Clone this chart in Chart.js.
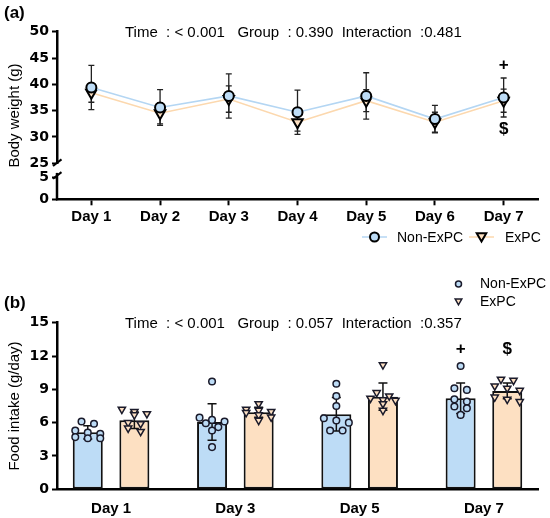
<!DOCTYPE html>
<html><head><meta charset="utf-8">
<script src="https://cdn.jsdelivr.net/npm/chart.js@4"></script>
<style>
html,body{margin:0;padding:0;background:#fff;}
#wrap{position:relative;width:550px;height:518px;overflow:hidden;}
.c{position:absolute;left:0;width:550px;height:259px;}
#top{top:0;} #bot{top:259px;}
</style></head><body>
<div id="wrap">
<div class="c" id="top"><canvas id="c1"></canvas></div>
<div class="c" id="bot"><canvas id="c2"></canvas></div>
</div>
<script>
// ---------- data: (a) body weight ----------
const bwDays = ['Day 1','Day 2','Day 3','Day 4','Day 5','Day 6','Day 7'];
const bwNon   = [39.4, 35.6, 37.8, 34.7, 37.8, 33.4, 37.5];
const bwNonSD = [4.2, 3.4, 4.2, 4.2, 4.4, 2.6, 3.7];
const bwEx    = [38.4, 34.5, 37.2, 32.8, 36.9, 32.8, 36.9];
const bwExSD  = [1.8, 2.0, 2.5, 1.7, 2.1, 1.9, 2.2];
const bwTopTicks = [25, 30, 35, 40, 45, 50];
const bwBotTicks = [0, 5];
const bwStats = 'Time  : < 0.001   Group  : 0.390  Interaction  :0.481';

// ---------- data: (b) food intake ----------
const fiDays   = [1, 3, 5, 7];
const fiLabels = ['Day 1','Day 3','Day 5','Day 7'];
const fiNonMean = [5.13, 6.06, 6.76, 8.20];
const fiNonSD   = [0.60, 1.65, 1.50, 1.38];
const fiExMean  = [6.22, 6.94, 8.34, 8.86];
const fiExSD    = [0.74, 0.45, 1.22, 0.70];
const fiNonPts = [
  [6.1, 5.9, 5.3, 5.1, 5.0, 4.7, 4.6, 4.6],
  [9.7, 6.45, 6.25, 6.1, 5.95, 5.6, 5.3, 3.8],
  [9.5, 8.4, 7.5, 6.4, 6.2, 6.0, 5.3, 5.3],
  [11.1, 9.1, 8.95, 8.1, 7.9, 7.45, 7.3, 6.7]
];
const fiExPts = [
  [7.2, 7.0, 6.8, 6.7, 6.0, 5.9, 5.5, 5.2],
  [7.7, 7.2, 7.1, 7.0, 6.9, 6.7, 6.5, 6.2],
  [11.2, 8.7, 8.4, 8.2, 8.05, 8.0, 7.7, 7.1],
  [9.9, 9.8, 9.3, 9.1, 8.9, 8.3, 8.1, 7.9]
];
const fiTicks = [0, 3, 6, 9, 12, 15];
const fiStats = 'Time  : < 0.001   Group  : 0.057  Interaction  :0.357';
const seriesNames = ['Non-ExPC', 'ExPC'];

// ---------- styles ----------
const BLUE = '#bddcf6', ORANGE = '#fde0c2';
const BLUE_LINE = '#b4d6f3', ORANGE_LINE = '#fcd8ae';
const ARIAL = "'Liberation Sans', Arial, Helvetica, sans-serif";
const TICKF = "'DejaVu Sans', 'Liberation Sans', sans-serif";

function circ(ctx, x, y, r, fill, lw, stroke) {
  ctx.beginPath(); ctx.arc(x, y, r, 0, Math.PI * 2);
  ctx.fillStyle = fill; ctx.fill();
  ctx.lineWidth = lw; ctx.strokeStyle = stroke; ctx.stroke();
}
function triDown(ctx, x, y, r, fill, lw, stroke) {
  const s = Math.sin(Math.PI / 3) * r;
  ctx.beginPath(); ctx.moveTo(x, y + r); ctx.lineTo(x - s, y - r / 2); ctx.lineTo(x + s, y - r / 2); ctx.closePath();
  ctx.fillStyle = fill; ctx.fill();
  ctx.lineWidth = lw; ctx.strokeStyle = stroke; ctx.lineJoin = 'miter'; ctx.stroke();
}
function errBar(ctx, px, y1, y2, cap) {
  ctx.beginPath();
  ctx.moveTo(px, y1); ctx.lineTo(px, y2);
  ctx.moveTo(px - cap, y1); ctx.lineTo(px + cap, y1);
  ctx.moveTo(px - cap, y2); ctx.lineTo(px + cap, y2);
  ctx.stroke();
}

const axisCommon = {
  grid: { display: true, drawOnChartArea: false, drawTicks: true, tickLength: 5, tickWidth: 2, tickColor: '#000' },
  border: { display: true, color: '#000', width: 2.5 },
};
const yTickOpts = { color: '#000', font: { family: TICKF, size: 14, weight: 'bold' }, padding: 3, autoSkip: false };

// ---------- chart (a) ----------
const topPlugin = {
  id: 'topDeco',
  beforeDatasetsDraw(chart) {
    const ctx = chart.ctx, xs = chart.scales.x, ys = chart.scales.yTop;
    ctx.save(); ctx.strokeStyle = '#222'; ctx.lineWidth = 1.3;
    [[bwNon, bwNonSD], [bwEx, bwExSD]].forEach(([m, sd]) => {
      m.forEach((v, i) => {
        errBar(ctx, xs.getPixelForValue(i), ys.getPixelForValue(v + sd[i]), ys.getPixelForValue(v - sd[i]), 3);
      });
    });
    ctx.restore();
  },
  afterDraw(chart) {
    const ctx = chart.ctx, xs = chart.scales.x, yt = chart.scales.yTop, yb = chart.scales.yBot;
    const L = chart.chartArea.left;
    ctx.save();
    // lower axis segment + break marks
    ctx.strokeStyle = '#000'; ctx.lineWidth = 2.5;
    ctx.beginPath(); ctx.moveTo(L, yb.getPixelForValue(6)); ctx.lineTo(L, yb.bottom + 1); ctx.stroke();
    ctx.lineWidth = 2;
    [yt.bottom - 0.5, yb.getPixelForValue(5.4)].forEach(cy => {
      ctx.beginPath(); ctx.moveTo(L - 4, cy + 3.2); ctx.lineTo(L + 4.5, cy - 3.4); ctx.stroke();
    });
    // panel letter
    ctx.fillStyle = '#000'; ctx.textBaseline = 'middle'; ctx.textAlign = 'left';
    ctx.font = 'bold 17px ' + ARIAL; ctx.fillText('(a)', 4, 13);
    // stats
    ctx.font = '15px ' + ARIAL; ctx.fillText(bwStats, 125, 33);
    // y title
    ctx.save(); ctx.translate(15, (yt.top + yb.bottom) / 2); ctx.rotate(-Math.PI / 2);
    ctx.textAlign = 'center'; ctx.font = '15px ' + ARIAL; ctx.fillText('Body weight (g)', 0, 0);
    ctx.restore();
    // significance marks
    ctx.textAlign = 'center'; ctx.font = 'bold 17px ' + ARIAL;
    const x7 = xs.getPixelForValue(6);
    ctx.fillText('+', x7, yt.getPixelForValue(43.7));
    ctx.fillText('$', x7, yt.getPixelForValue(31.5));
    // legend
    const ly = 237;
    ctx.lineWidth = 1.5;
    ctx.strokeStyle = BLUE_LINE; ctx.beginPath(); ctx.moveTo(362, ly); ctx.lineTo(387, ly); ctx.stroke();
    circ(ctx, 374.5, ly, 4.5, BLUE, 2, '#000');
    ctx.strokeStyle = ORANGE_LINE; ctx.lineWidth = 1.5; ctx.beginPath(); ctx.moveTo(469, ly); ctx.lineTo(494, ly); ctx.stroke();
    triDown(ctx, 481.5, ly - 1, 5.5, ORANGE, 2, '#000');
    ctx.fillStyle = '#000'; ctx.textAlign = 'left'; ctx.font = '14px ' + ARIAL;
    ctx.fillText(seriesNames[0], 397, ly + 1); ctx.fillText(seriesNames[1], 505, ly + 1);
    ctx.restore();
  }
};

new Chart(document.getElementById('c1'), {
  type: 'line',
  data: {
    labels: bwDays,
    datasets: [
      { label: seriesNames[0], data: bwNon, yAxisID: 'yTop', borderColor: BLUE_LINE, borderWidth: 1.6,
        pointStyle: 'circle', pointRadius: 5, pointBorderWidth: 2, pointBackgroundColor: BLUE, pointBorderColor: '#000', tension: 0 },
      { label: seriesNames[1], data: bwEx, yAxisID: 'yTop', borderColor: ORANGE_LINE, borderWidth: 1.6,
        pointStyle: 'triangle', pointRotation: 180, pointRadius: 6, pointBorderWidth: 2, pointBackgroundColor: ORANGE, pointBorderColor: '#000', tension: 0 }
    ]
  },
  options: {
    responsive: true, maintainAspectRatio: false, animation: false, events: [],
    layout: { padding: { left: 0, right: 12, top: 31.7, bottom: 0 } },
    plugins: { legend: { display: false }, tooltip: { enabled: false } },
    scales: {
      x: { type: 'category', offset: true, ...axisCommon,
        grid: { ...axisCommon.grid, tickLength: 6, offset: false },
        ticks: { color: '#000', font: { family: ARIAL, size: 15, weight: 'bold' }, padding: 3, maxRotation: 0, autoSkip: false },
        afterFit(s) { s.height = 259 - 199.3; } },
      yTop: { type: 'linear', position: 'left', stack: 'bw', stackWeight: 131.6, weight: 2, min: 25, max: 50,
        ...axisCommon,
        afterBuildTicks(s) { s.ticks = bwTopTicks.map(v => ({ value: v })); },
        ticks: yTickOpts,
        afterFit(s) { s.width = 57; } },
      yBot: { type: 'linear', position: 'left', stack: 'bw', stackWeight: 36, weight: 1, min: 0, max: 8.18,
        grid: axisCommon.grid, border: { display: false },
        afterBuildTicks(s) { s.ticks = bwBotTicks.map(v => ({ value: v })); },
        ticks: yTickOpts,
        afterFit(s) { s.width = 57; } }
    }
  },
  plugins: [topPlugin]
});

// ---------- chart (b) ----------
const swarmPlugin = {
  id: 'swarm',
  afterDatasetsUpdate(chart) {
    [[2, 0, fiNonPts], [3, 1, fiExPts]].forEach(([pi, bi, pts]) => {
      const pm = chart.getDatasetMeta(pi), bm = chart.getDatasetMeta(bi);
      let k = 0;
      pts.forEach((arr, d) => {
        const cx = bm.data[d].x;
        const els = arr.map(() => pm.data[k++]);
        // rows of close values, centred on the bar
        const order = els.map((e, i) => i).sort((a, b) => els[a].y - els[b].y);
        let row = [];
        const flush = () => {
          row.forEach((idx, j) => { els[idx].x = cx + (j - (row.length - 1) / 2) * 12.5; });
          row = [];
        };
        let y0 = null;
        order.forEach(idx => {
          const yy = els[idx].y;
          if (row.length && (yy - y0 > 5 || row.length >= 3)) flush();
          if (!row.length) y0 = yy;
          row.push(idx);
        });
        flush();
      });
    });
  },
  afterDatasetDraw(chart, args) {
    if (args.index > 1) return;
    const ctx = chart.ctx, ys = chart.scales.y, bm = args.meta;
    const m = args.index === 0 ? fiNonMean : fiExMean, sd = args.index === 0 ? fiNonSD : fiExSD;
    ctx.save(); ctx.strokeStyle = '#111'; ctx.lineWidth = 1.5;
    m.forEach((v, i) => {
      errBar(ctx, bm.data[i].x, ys.getPixelForValue(v + sd[i]), ys.getPixelForValue(v - sd[i]), 4.5);
    });
    ctx.restore();
  },
  afterDraw(chart) {
    const ctx = chart.ctx, ys = chart.scales.y;
    ctx.save();
    ctx.fillStyle = '#000'; ctx.textBaseline = 'middle'; ctx.textAlign = 'left';
    ctx.font = 'bold 17px ' + ARIAL; ctx.fillText('(b)', 4, 44);
    ctx.font = '15px ' + ARIAL; ctx.fillText(fiStats, 125, 64.5);
    ctx.save(); ctx.translate(15, (ys.top + ys.bottom) / 2); ctx.rotate(-Math.PI / 2);
    ctx.textAlign = 'center'; ctx.font = '15px ' + ARIAL; ctx.fillText('Food intake (g/day)', 0, 0);
    ctx.restore();
    // significance marks at Day 7
    ctx.textAlign = 'center'; ctx.font = 'bold 17px ' + ARIAL;
    ctx.fillText('+', chart.getDatasetMeta(0).data[3].x, ys.getPixelForValue(12.64));
    ctx.fillText('$', chart.getDatasetMeta(1).data[3].x, ys.getPixelForValue(12.64));
    // legend
    circ(ctx, 458.5, 25, 3, BLUE, 1.5, '#1b1b2b');
    triDown(ctx, 458.5, 42, 3.8, ORANGE, 1.5, '#1b1b2b');
    ctx.fillStyle = '#000'; ctx.textAlign = 'left'; ctx.font = '14px ' + ARIAL;
    ctx.fillText(seriesNames[0], 480, 25.5); ctx.fillText(seriesNames[1], 480, 43);
    ctx.restore();
  }
};

const ptsData = pts => pts.flatMap((arr, d) => arr.map(v => ({ x: fiDays[d], y: v })));

new Chart(document.getElementById('c2'), {
  type: 'bar',
  data: {
    datasets: [
      { label: seriesNames[0], data: fiDays.map((d, i) => ({ x: d, y: fiNonMean[i] })), backgroundColor: BLUE,
        borderColor: '#111', borderWidth: 2, borderSkipped: false, categoryPercentage: 0.75, barPercentage: 0.644, order: 2 },
      { label: seriesNames[1], data: fiDays.map((d, i) => ({ x: d, y: fiExMean[i] })), backgroundColor: ORANGE,
        borderColor: '#111', borderWidth: 2, borderSkipped: false, categoryPercentage: 0.75, barPercentage: 0.644, order: 2 },
      { type: 'scatter', label: seriesNames[0] + ' pts', data: ptsData(fiNonPts), pointStyle: 'circle', pointRadius: 3.3,
        pointBorderWidth: 1.5, pointBackgroundColor: BLUE, pointBorderColor: '#1b1b2b', order: 1 },
      { type: 'scatter', label: seriesNames[1] + ' pts', data: ptsData(fiExPts), pointStyle: 'triangle', pointRotation: 180,
        pointRadius: 4.2, pointBorderWidth: 1.5, pointBackgroundColor: ORANGE, pointBorderColor: '#1b1b2b', order: 1 }
    ]
  },
  options: {
    responsive: true, maintainAspectRatio: false, animation: false, events: [],
    layout: { padding: { left: 0, right: 12, top: 63.7, bottom: 0 } },
    plugins: { legend: { display: false }, tooltip: { enabled: false } },
    scales: {
      x: { type: 'linear', min: 0.13, max: 7.87, offset: false,
        grid: { display: false, drawTicks: false }, border: { display: true, color: '#000', width: 2.5 },
        afterBuildTicks(s) { s.ticks = fiDays.map(v => ({ value: v })); },
        ticks: { color: '#000', font: { family: ARIAL, size: 15, weight: 'bold' }, padding: 11,
          callback: v => fiLabels[fiDays.indexOf(v)] ?? '', maxRotation: 0, autoSkip: false },
        afterFit(s) { s.height = 259 - 230.3; } },
      y: { type: 'linear', position: 'left', min: 0, max: 15, ...axisCommon,
        afterBuildTicks(s) { s.ticks = fiTicks.map(v => ({ value: v })); },
        ticks: yTickOpts,
        afterFit(s) { s.width = 57; } }
    }
  },
  plugins: [swarmPlugin]
});
</script>
</body></html>
